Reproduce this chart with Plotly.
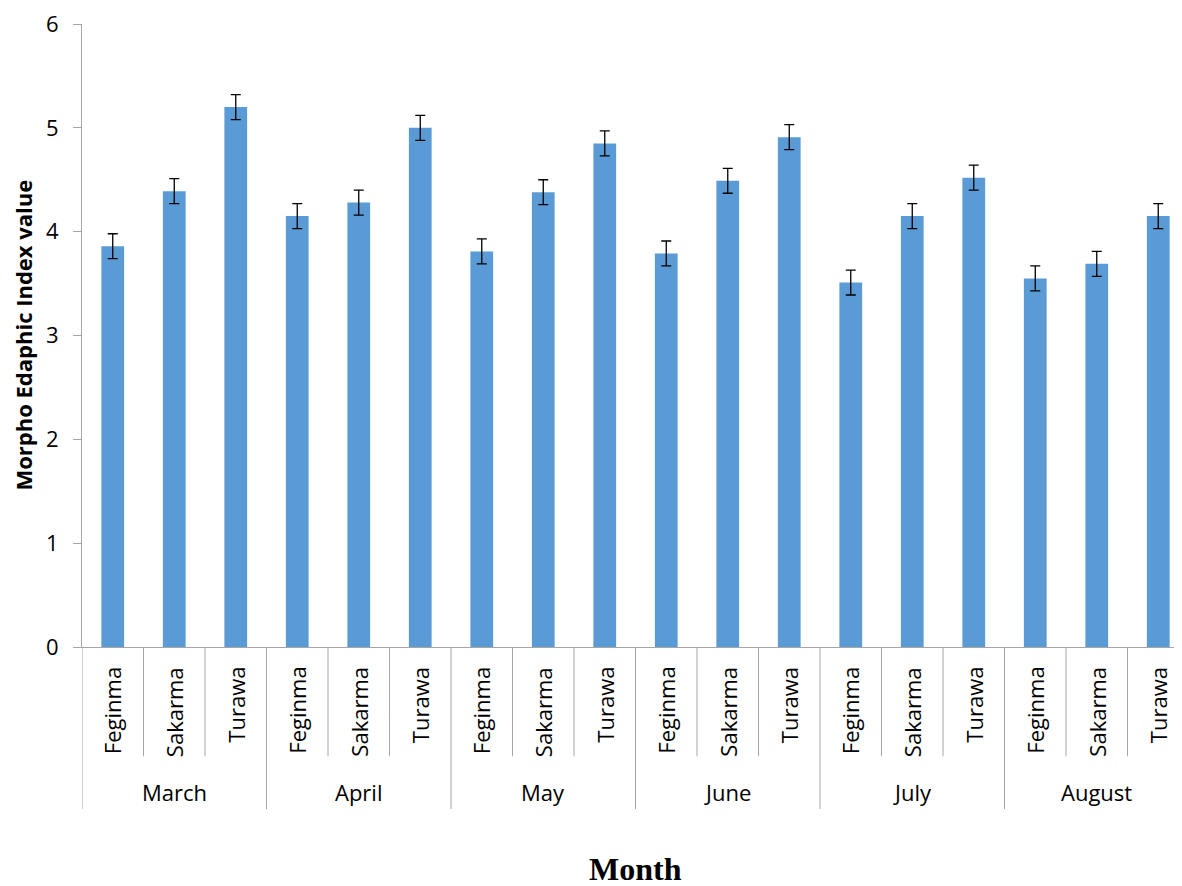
import plotly.graph_objects as go

months = ["March", "April", "May", "June", "July", "August"]
sites = ["Feginma", "Sakarma", "Turawa"]
values = [3.86, 4.39, 5.20,
          4.15, 4.28, 5.00,
          3.81, 4.38, 4.85,
          3.79, 4.49, 4.91,
          3.51, 4.15, 4.52,
          3.55, 3.69, 4.15]
errors = [0.12] * 18
y_ticks = [0, 1, 2, 3, 4, 5, 6]

FONT = "Open Sans"
AXIS_GRAY = "#a6a6a6"
n = len(values)
idx = list(range(n))
site_labels = [sites[i % 3] for i in idx]

fig = go.Figure()
fig.add_trace(go.Bar(
    x=idx, y=values, width=0.37,
    marker=dict(color="#5b9bd5", line=dict(width=0)),
    error_y=dict(type="data", array=errors, visible=True,
                 color="black", thickness=1.3, width=5),
    showlegend=False,
))

annotations = []
shapes = []
# site labels
for i in idx:
    annotations.append(dict(x=i, xref="x", y=-0.0287, yref="paper",
                            text=site_labels[i], textangle=-90, showarrow=False,
                            xanchor="center", yanchor="top",
                            font=dict(family=FONT, size=22, color="black")))
# month labels
for g, m in enumerate(months):
    annotations.append(dict(x=3 * g + 1, xref="x", y=-0.233, yref="paper",
                            text=m, showarrow=False, xanchor="center", yanchor="middle",
                            font=dict(family=FONT, size=22, color="black")))
# separators
for b in range(n + 1):
    outer = (b % 3 == 0)
    shapes.append(dict(type="line", xref="x", yref="paper",
                       x0=b - 0.5, x1=b - 0.5, y0=0, y1=-0.26 if outer else -0.1754,
                       line=dict(color=AXIS_GRAY, width=1)))

annotations.append(dict(x=-0.0545, xref="paper", y=0.5, yref="paper",
                        text="<b>Morpho Edaphic Index value</b>", textangle=-90,
                        showarrow=False, xanchor="center", yanchor="middle",
                        font=dict(family=FONT, size=22, color="black")))
annotations.append(dict(x=8.5, xref="x", y=-0.3557, yref="paper",
                        text="<b>Month</b>", showarrow=False,
                        xanchor="center", yanchor="middle",
                        font=dict(family="Liberation Serif", size=32, color="black")))

fig.update_layout(
    width=1174, height=878,
    margin=dict(l=74, r=0, t=12, b=239),
    plot_bgcolor="white", paper_bgcolor="white",
    annotations=annotations, shapes=shapes,
    xaxis=dict(range=[-0.5, 17.386], showticklabels=False, ticks="",
               showline=True, linecolor=AXIS_GRAY, linewidth=1,
               showgrid=False, zeroline=False, fixedrange=True),
    yaxis=dict(range=[0, 6], tickvals=y_ticks, ticks="outside", ticklen=8,
               tickcolor=AXIS_GRAY, showline=True, linecolor=AXIS_GRAY, linewidth=1,
               showgrid=False, zeroline=False,
               tickfont=dict(family=FONT, size=22, color="black"),
               ticklabelstandoff=10, ticklabeloverflow="allow"),
)

fig.write_html("out.html")
